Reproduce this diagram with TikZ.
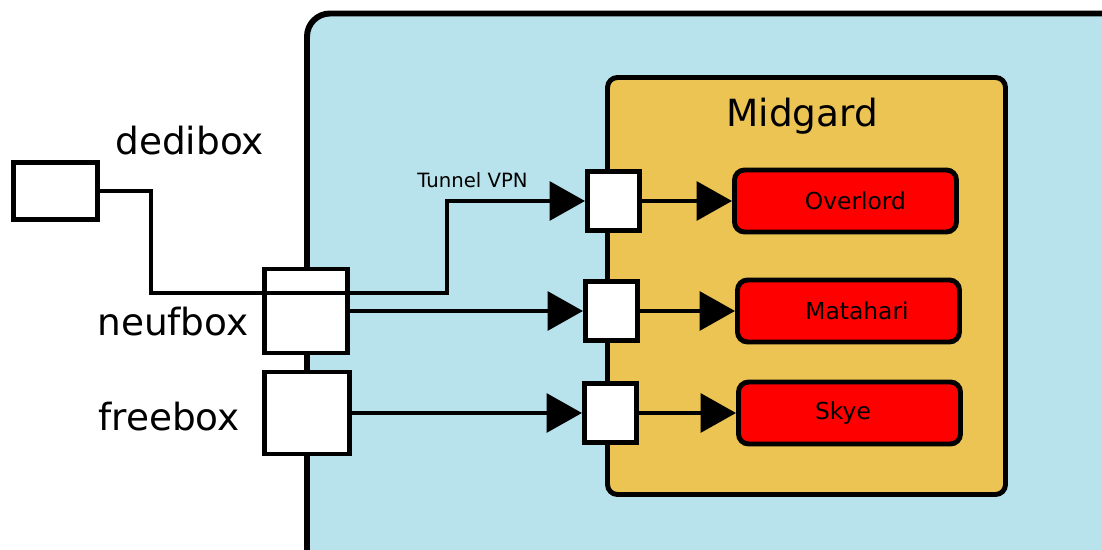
\documentclass[tikz,border=0pt]{standalone}
\usepackage{fontspec}
\setmainfont{DejaVu Sans}
\usetikzlibrary{arrows.meta}
\definecolor{lanblue}{RGB}{185,227,236}
\definecolor{midgold}{RGB}{235,196,83}
\definecolor{hostred}{RGB}{255,0,0}

\begin{document}
\begin{tikzpicture}[x=0.02cm,y=-0.02cm,
    wire/.style={line width=2.8pt},
    link/.style={wire,-{Triangle[length=0.71cm,width=0.77cm]}},
    box/.style={draw,line width=2.8pt,fill=white,inner sep=0pt},
    port/.style={box,minimum width=1.04cm,minimum height=1.18cm},
    host/.style={draw,line width=2.8pt,fill=hostred,rounded corners=0.2cm,
        minimum width=4.44cm,minimum height=1.24cm,font=\fontsize{13.3}{15}\selectfont},
    biglabel/.style={anchor=base west,inner sep=0pt,font=\fontsize{21.3}{25}\selectfont}]
    \useasboundingbox (0,0) rectangle (1102,550);
    \begin{scope}
        \clip (0,0) rectangle (1102,550);
        \draw[line width=3.4pt,fill=lanblue,rounded corners=0.46cm] (307,13.5) rectangle (1130,580);
    \end{scope}
    \draw[wire,fill=midgold,rounded corners=0.2cm] (607.5,77.5) rectangle (1005.5,494.5);
    \node[biglabel] (midgard) at (726,127) {Midgard};
    % boxes
    \node[box,minimum width=1.68cm,minimum height=1.14cm] (dedi) at (55.5,191) {};
    \node[box,minimum width=1.66cm,minimum height=1.68cm] (neuf) at (306,311) {};
    \node[box,minimum width=1.70cm,minimum height=1.64cm] (free) at (307,413) {};
    \node[biglabel] (dedilabel) at (115,155) {dedibox};
    \node[biglabel] (neuflabel) at (97,336) {neufbox};
    \node[biglabel] (freelabel) at (98,430) {freebox};
    % ports and hosts
    \node[port] (port1) at (613.5,201) {};
    \node[port] (port2) at (611.5,311) {};
    \node[port] (port3) at (610.5,413) {};
    \node[host] (overlord) at (845.5,201) {\hspace*{0.4cm}Overlord};
    \node[host] (matahari) at (848.5,311) {\hspace*{0.34cm}Matahari};
    \node[host] (skye) at (849.5,413) {Skye\hspace*{0.26cm}};
    % wires
    \draw[link] (dedi.east) -- (151,191) |- (447,293) |- (port1.west);
    \node[anchor=base west,inner sep=0pt,font=\fontsize{11.2}{13}\selectfont] (tunnel) at (417,188) {Tunnel VPN};
    \draw[link] (neuf.east) -- (port2.west);
    \draw[link] (free.east) -- (port3.west);
    \draw[link] (port1) -- (overlord);
    \draw[link] (port2) -- (matahari);
    \draw[link] (port3) -- (skye);
\end{tikzpicture}
\end{document}
